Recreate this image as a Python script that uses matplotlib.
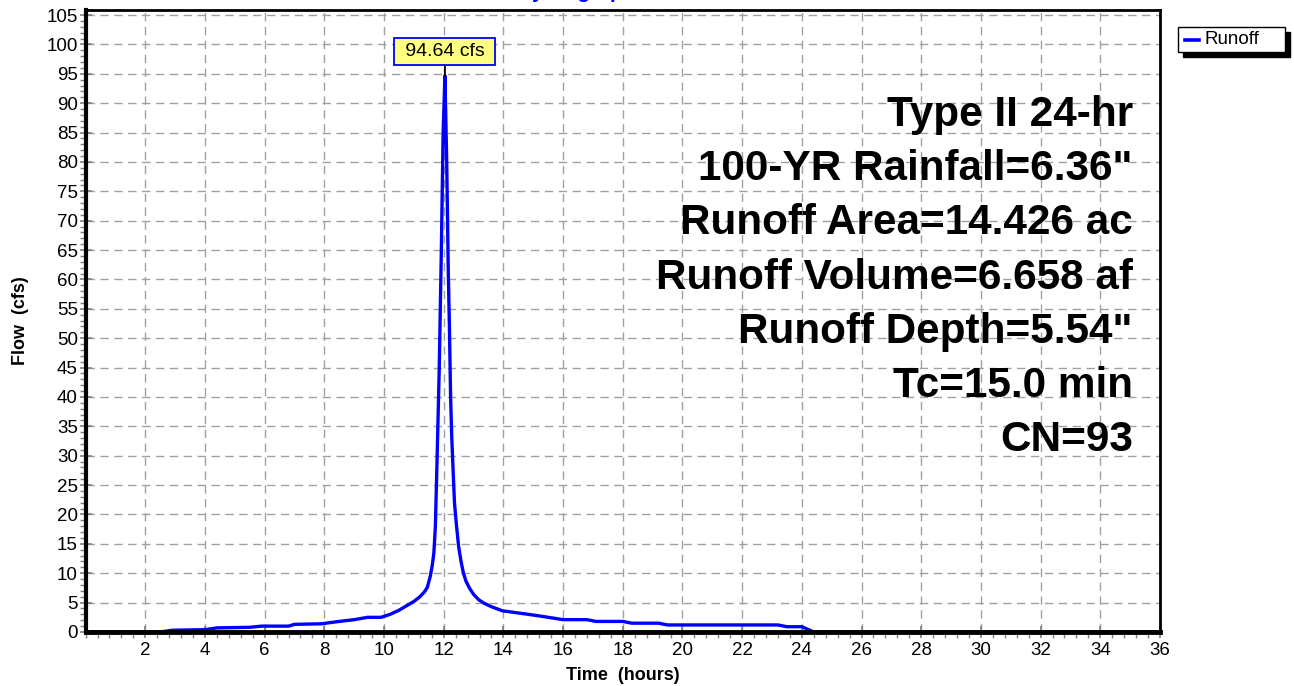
import matplotlib
matplotlib.use("Agg")
import matplotlib.pyplot as plt
from matplotlib.ticker import MultipleLocator
from matplotlib.patches import Rectangle
import numpy as np

plt.rcParams['font.family'] = ['Liberation Sans', 'DejaVu Sans']

# Hydrograph data (hours, cfs)
time_hr = [0.0, 2.5, 2.9, 4.0, 4.4, 5.5, 5.9, 6.8, 7.0, 7.9, 8.5, 9.0, 9.45, 9.9,
           10.2, 10.5, 10.8, 11.0, 11.2, 11.35, 11.45, 11.55, 11.62, 11.67, 11.72,
           11.78, 11.85, 11.92, 11.98, 12.04, 12.1, 12.15, 12.19, 12.23, 12.27,
           12.31, 12.36, 12.42, 12.5, 12.58, 12.66, 12.75, 12.87, 13.0, 13.17,
           13.35, 13.6, 13.97, 14.7, 15.25, 16.0, 16.8, 17.1, 18.0, 18.3, 19.2,
           19.5, 23.2, 23.5, 24.0, 24.4, 36.0]
flow_cfs = [0.0, 0.0, 0.3, 0.4, 0.7, 0.8, 1.0, 1.0, 1.3, 1.4, 1.8, 2.1, 2.5, 2.5,
            3.0, 3.7, 4.6, 5.2, 6.0, 6.8, 7.6, 9.5, 11.5, 13.5, 18.0,
            30.0, 45.0, 65.0, 85.0, 94.64, 80.0, 62.0, 52.0, 40.0, 33.0,
            28.0, 22.0, 18.5, 14.5, 12.0, 10.0, 8.6, 7.4, 6.4, 5.5,
            4.9, 4.3, 3.6, 3.1, 2.7, 2.1, 2.1, 1.8, 1.8, 1.5, 1.5,
            1.2, 1.2, 0.9, 0.9, 0.0, 0.0]

peak_time = 12.04
peak_flow = 94.64

info_lines = ["Type II 24-hr", "100-YR Rainfall=6.36\"", "Runoff Area=14.426 ac",
              "Runoff Volume=6.658 af", "Runoff Depth=5.54\"", "Tc=15.0 min", "CN=93"]

fig = plt.figure(figsize=(12.94, 6.86), dpi=100)
W, H = 1294, 686
ax = fig.add_axes([85.6 / W, 1 - 632 / H, (1160 - 85.6) / W, (632 - 9.5) / H])

ax.plot(time_hr, flow_cfs, color='#0000FF', lw=2.4, solid_joinstyle='round', zorder=3,
        label='Runoff', clip_on=False)

ax.set_xlim(0, 36)
ax.set_ylim(0, (632 - 9.5) / 5.876)
ax.xaxis.set_minor_locator(MultipleLocator(0.4))
ax.yaxis.set_minor_locator(MultipleLocator(1))
ax.set_xticks(np.arange(2, 37, 2))
ax.set_xticklabels([str(v) for v in range(2, 37, 2)])
ax.set_yticks(np.arange(0, 106, 5))
ax.set_yticklabels([str(v) for v in range(0, 106, 5)])

ax.grid(True, which='major', color='#A0A0A0', linestyle=(0, (6, 4)), lw=1.0)
ax.tick_params(which='major', direction='inout', length=9, width=1.2, color='#808080',
               labelsize=13.5, pad=1)
ax.tick_params(which='minor', direction='out', length=4, width=1.0, color='#808080')
ax.tick_params(axis='x', which='major', pad=3)

for side, lw in [('left', 3.0), ('bottom', 3.5), ('top', 2.0), ('right', 2.0)]:
    ax.spines[side].set_linewidth(lw)
    ax.spines[side].set_color('black')
    ax.spines[side].set_zorder(4)

ax.set_xlabel('Time  (hours)', fontsize=13, fontweight='bold', labelpad=0)
ax.set_ylabel('Flow  (cfs)', fontsize=13, fontweight='bold')
ax.yaxis.set_label_coords(-57 / (1160 - 85.6), 0.5)
ax.xaxis.set_label_coords(0.5, -(676 - 632) / (632 - 9.5))
ax.xaxis.label.set_va('center')

# Peak label
ax.annotate(f" {peak_flow:.2f} cfs ", xy=(peak_time, peak_flow), xytext=(peak_time, 98.8),
            ha='center', va='center', fontsize=14,
            bbox=dict(boxstyle='square,pad=0.28', fc='#FFFF80', ec='#0000FF', lw=1.3),
            arrowprops=dict(arrowstyle='-', color='black', lw=1.3, shrinkA=0, shrinkB=0),
            zorder=6)

# Info text block
y0 = 115
for i, line in enumerate(info_lines):
    ypix = y0 + i * 54.2
    fig.text(1133 / W, 1 - ypix / H, line, ha='right', va='center', fontsize=30.4,
             fontweight='bold', color='black')

# Legend with shadow (figure-pixel geometry)
lx0, ly0, lw_, lh_ = 1178, 27, 107, 25
fig.patches.append(Rectangle(((lx0 + 5) / W, 1 - (ly0 + lh_ + 5) / H), lw_ / W, lh_ / H,
                             transform=fig.transFigure, fc='black', ec='black', zorder=1))
fig.patches.append(Rectangle((lx0 / W, 1 - (ly0 + lh_) / H), lw_ / W, lh_ / H,
                             transform=fig.transFigure, fc='white', ec='black', lw=1.0, zorder=2))
fig.lines.append(plt.Line2D([(lx0 + 7) / W, (lx0 + 21) / W], [1 - (ly0 + 12.5) / H] * 2,
                            transform=fig.transFigure, color='#0000FF', lw=2.6, zorder=3))
fig.text((lx0 + 26) / W, 1 - (ly0 + 12.5) / H, 'Runoff', ha='left', va='center', fontsize=13.5,
         zorder=3)

# Title (mostly cropped at top of image)
fig.text(577 / W, 1 + 1.5 / H, 'Hydrograph', ha='center', va='baseline', fontsize=15,
         fontweight='bold', color='#0000FF')

fig.savefig('out.png', dpi=100)
